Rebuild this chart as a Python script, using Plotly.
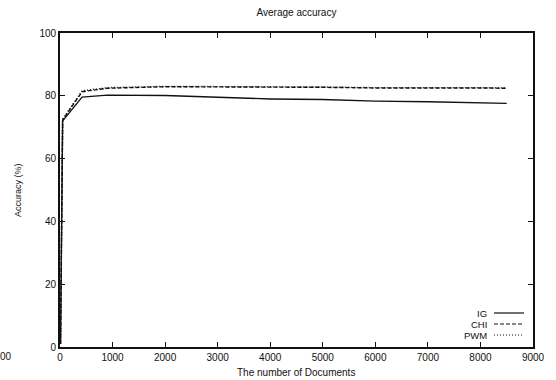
import plotly.graph_objects as go

# Number of training documents and averaged accuracy (%) for each feature-selection method
docs = [10, 50, 420, 900, 2000, 3000, 4000, 5000, 6000, 7000, 8000, 8500]
ig_acc = [1.0, 72.0, 79.6, 80.2, 80.1, 79.5, 79.0, 78.8, 78.3, 78.1, 77.9, 77.6]
chi_acc = [1.0, 72.3, 81.3, 82.4, 82.9, 82.9, 82.8, 82.7, 82.5, 82.6, 82.5, 82.4]
pwm_acc = [1.0, 72.6, 81.6, 82.6, 83.0, 83.0, 82.9, 82.8, 82.6, 82.7, 82.6, 82.5]

series_names = ["IG", "CHI", "PWM"]
series_values = [ig_acc, chi_acc, pwm_acc]
series_dash = ["solid", "4px,2px", "1px,2px"]

x_ticks = [0, 1000, 2000, 3000, 4000, 5000, 6000, 7000, 8000, 9000]
y_ticks = [0, 20, 40, 60, 80, 100]

FONT = "Liberation Sans, Arial, sans-serif"
INK = "#111111"

fig = go.Figure()
for name, vals, dash in zip(series_names, series_values, series_dash):
    fig.add_trace(go.Scatter(
        x=docs, y=vals, mode="lines", name=name,
        line=dict(color=INK, width=1.4, dash=dash),
        showlegend=False,
    ))

# plot-area geometry in pixels (used for the hand-placed texts and key)
W, H = 556, 380
L, R, T, B = 60, 23, 33, 33
pw, ph = W - L - R, H - T - B

def px(x):
    return (x - L) / pw

def py(y):
    return (H - B - y) / ph

def text_at(x, y, s, size=10, xanchor="center", yanchor="middle", angle=0):
    fig.add_annotation(
        x=px(x), y=py(y), xref="paper", yref="paper", text=s,
        showarrow=False, xanchor=xanchor, yanchor=yanchor, textangle=angle,
        borderpad=0, font=dict(family=FONT, size=size, color=INK),
    )

# key in the lower-right corner: label, then line sample to its right
key_rows = [313, 324, 335]
for name, dash, yrow in zip(series_names, series_dash, key_rows):
    text_at(488, yrow, name, size=9.5, xanchor="right")
    fig.add_shape(
        type="line", xref="paper", yref="paper",
        x0=px(494), x1=px(524), y0=py(yrow), y1=py(yrow),
        line=dict(color=INK, width=1.2, dash=dash),
    )

# axis titles and the stray label at the lower-left edge
text_at(296, 372, "The number of Documents")
text_at(18, 190, "Accuracy (%)", size=9, angle=-90)
text_at(6, 356, "00")

axis_common = dict(
    showgrid=False, zeroline=False, showline=True, linecolor=INK,
    linewidth=1.8, mirror="ticks", ticks="inside", ticklen=5,
    tickcolor=INK, tickwidth=1,
    tickfont=dict(family=FONT, size=10, color=INK),
)

fig.update_layout(
    width=W, height=H,
    margin=dict(l=L, r=R, t=T, b=B, autoexpand=False),
    paper_bgcolor="white", plot_bgcolor="white",
    title=dict(
        text="Average accuracy", x=(L + pw / 2) / W, xanchor="center",
        y=1 - 12 / H, yanchor="middle",
        font=dict(family=FONT, size=10, color=INK),
    ),
    xaxis=dict(range=[0, 9000], tickvals=x_ticks, **axis_common),
    yaxis=dict(range=[0, 100], tickvals=y_ticks, **axis_common),
)

fig.write_html("out.html")
